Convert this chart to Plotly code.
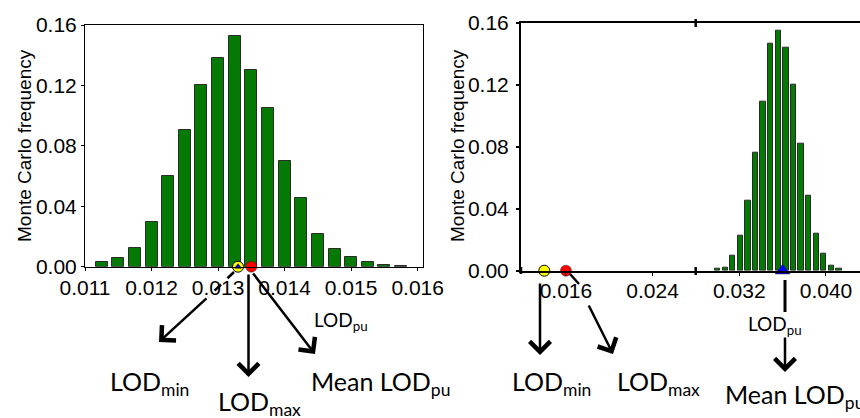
import plotly.graph_objects as go

# ---------------- data ----------------
left_x = [0.01125, 0.01150, 0.01175, 0.01200, 0.01225, 0.01250, 0.01275, 0.01300, 0.01325, 0.01350,
          0.01375, 0.01400, 0.01425, 0.01450, 0.01475, 0.01500, 0.01525, 0.01550, 0.01575]
left_freq = [0.0029, 0.0057, 0.0121, 0.0294, 0.0602, 0.0905, 0.1203, 0.1384, 0.1527, 0.1304,
             0.1050, 0.0697, 0.0455, 0.0218, 0.0117, 0.0066, 0.0029, 0.0013, 0.0007]
left_lod_min = [0.0133]
left_lod_max = [0.0135]
left_mean_lodpu = [0.0133]

right_x = [0.0300, 0.0307, 0.0314, 0.0321, 0.0328, 0.0335, 0.0342, 0.0349, 0.0356, 0.0363,
           0.0370, 0.0377, 0.0384, 0.0391, 0.0398, 0.0405, 0.0412]
right_freq = [0.0010, 0.0020, 0.0095, 0.0224, 0.0454, 0.0761, 0.1088, 0.1462, 0.1546, 0.1439,
              0.1202, 0.0819, 0.0486, 0.0237, 0.0108, 0.0034, 0.0011]
right_lod_min = [0.0140]
right_lod_max = [0.0160]
right_mean_lodpu = [0.0360]

left_xticks = [0.011, 0.012, 0.013, 0.014, 0.015, 0.016]
right_xticks = [0.016, 0.024, 0.032, 0.040]
yticks = [0.00, 0.04, 0.08, 0.12, 0.16]

# ---------------- figure ----------------
W, H = 860, 418
def px(x):
    return x / W
def py(y):
    return 1 - y / H

GREEN = "#047a04"
EDGE = "#2b2b2b"
ANNFONT = "Lato"

def tickfont():
    return dict(family="Liberation Sans", size=21, color="black")

fig = go.Figure()

fig.add_trace(go.Bar(x=left_x, y=left_freq, width=0.00018, marker=dict(color=GREEN, line=dict(color=EDGE, width=1)),
                     xaxis="x", yaxis="y", showlegend=False))
fig.add_trace(go.Scatter(x=left_lod_min, y=[0], mode="markers", cliponaxis=False,
                         marker=dict(symbol="circle", size=11, color="#ffff00", line=dict(color="black", width=1)),
                         xaxis="x", yaxis="y", showlegend=False))
fig.add_trace(go.Scatter(x=left_mean_lodpu, y=[0], mode="markers", cliponaxis=False,
                         marker=dict(symbol="triangle-up", size=6, color="#0000ff", line=dict(color="black", width=0.5)),
                         xaxis="x", yaxis="y", showlegend=False))
fig.add_trace(go.Scatter(x=left_lod_max, y=[0], mode="markers", cliponaxis=False,
                         marker=dict(symbol="circle", size=11, color="#ff0000", line=dict(color="#222222", width=0.5)),
                         xaxis="x", yaxis="y", showlegend=False))

fig.add_trace(go.Bar(x=right_x, y=right_freq, width=0.00049, marker=dict(color=GREEN, line=dict(color=EDGE, width=1)),
                     xaxis="x2", yaxis="y2", showlegend=False))
fig.add_trace(go.Scatter(x=right_lod_min, y=[0], mode="markers", cliponaxis=False,
                         marker=dict(symbol="circle", size=11, color="#ffff00", line=dict(color="black", width=1)),
                         xaxis="x2", yaxis="y2", showlegend=False))
fig.add_trace(go.Scatter(x=right_lod_max, y=[0], mode="markers", cliponaxis=False,
                         marker=dict(symbol="circle", size=11, color="#ff0000", line=dict(color="#222222", width=0.5)),
                         xaxis="x2", yaxis="y2", showlegend=False))
fig.add_trace(go.Scatter(x=right_mean_lodpu, y=[0], mode="markers", cliponaxis=False,
                         marker=dict(symbol="triangle-up", size=13, color="#0000ff", line=dict(color="#222222", width=0.5)),
                         xaxis="x2", yaxis="y2", showlegend=False))

fig.update_layout(
    width=W, height=H, margin=dict(l=0, r=0, t=0, b=0, autoexpand=False),
    plot_bgcolor="white", paper_bgcolor="white", bargap=0,
    font=dict(family="Liberation Sans", size=18, color="black"),
)
fig.update_layout(
    xaxis=dict(domain=[px(85), px(423)], range=[0.011, 0.01608], anchor="y",
               tickmode="array", tickvals=left_xticks, ticktext=[f"{v:.3f}" for v in left_xticks],
               tickfont=tickfont(), showgrid=False, zeroline=False, showline=True, linecolor="black",
               automargin=False, ticks="outside", tickcolor="black",
               mirror=True, linewidth=1, ticklen=3, ticklabelstandoff=-1),
    yaxis=dict(domain=[py(266.7), py(25)], range=[0, 0.16], anchor="x",
               tickmode="array", tickvals=yticks, ticktext=[f"{v:.2f}" for v in yticks],
               tickfont=tickfont(), showgrid=False, zeroline=False, showline=True, linecolor="black",
               automargin=False, ticks="outside", tickcolor="black",
               mirror=True, linewidth=1, ticklen=3),
    xaxis2=dict(domain=[px(521), 1.0], range=[0.01185, 0.04314], anchor="y2",
                tickmode="array", tickvals=right_xticks, ticktext=[f"{v:.3f}" for v in right_xticks],
                tickfont=tickfont(), showgrid=False, zeroline=False, showline=True, linecolor="black",
                automargin=False, ticks="outside", tickcolor="black",
                mirror=True, linewidth=2, ticklen=3, ticklabelstandoff=-3),
    yaxis2=dict(domain=[py(270.7), py(22.7)], range=[0, 0.16], anchor="x2",
                tickmode="array", tickvals=yticks, ticktext=[f"{v:.2f}" for v in yticks],
                tickfont=tickfont(), showgrid=False, zeroline=False, showline=True, linecolor="black",
                automargin=False, ticks="outside", tickcolor="black",
                mirror=False, linewidth=2, ticklen=3, tickwidth=2, ticklabelstandoff=3),
)

# y titles
for xc in (25, 458):
    fig.add_annotation(text="Monte Carlo frequency", x=px(xc), y=py(146), xref="paper", yref="paper",
                       textangle=-90, showarrow=False, xanchor="center", yanchor="middle",
                       font=dict(family="Liberation Sans", size=19, color="black"))

# small thick marks on right panel frame
for (x0, y0, x1, y1) in [(521, 267, 521, 274), (695.7, 19, 695.7, 27), (695.7, 267, 695.7, 275)]:
    fig.add_shape(type="line", xref="paper", yref="paper", x0=px(x0), y0=py(y0), x1=px(x1), y1=py(y1),
                  line=dict(color="black", width=2.5))

def arrow(tail, tip, width=2.5):
    fig.add_annotation(x=px(tip[0]), y=py(tip[1]), xref="paper", yref="paper",
                       ax=tail[0] - tip[0], ay=tail[1] - tip[1], axref="pixel", ayref="pixel",
                       showarrow=True, arrowhead=4, arrowsize=1.6, arrowwidth=width, arrowcolor="black", text="")

def seg(p0, p1, dash="solid", width=2.5):
    fig.add_shape(type="line", xref="paper", yref="paper", x0=px(p0[0]), y0=py(p0[1]), x1=px(p1[0]), y1=py(p1[1]),
                  line=dict(color="black", width=width, dash=dash))

def label(text, x, y, size):
    fig.add_annotation(text=text, x=px(x), y=py(y), xref="paper", yref="paper", showarrow=False,
                       xanchor="left", yanchor="middle", font=dict(family=ANNFONT, size=size, color="black"))

# left panel arrows
seg((234, 272), (208, 297), dash="dash")
arrow((208, 297), (159, 342))
arrow((248.5, 273), (248.5, 377))
arrow((252, 272), (315, 354))
label("LOD<sub>min</sub>", 108, 383, 25)
label("LOD<sub>max</sub>", 216, 403, 25)
label("Mean LOD<sub>pu</sub>", 309, 383, 25)
label("LOD<sub>pu</sub>", 312, 321, 19)

# right panel arrows
arrow((540, 282), (540, 355))
seg((570, 274), (579, 284))
arrow((588, 304), (613, 354))
seg((785, 280), (785, 312), width=3)
arrow((785, 336), (785, 372))
label("LOD<sub>min</sub>", 510, 383, 25)
label("LOD<sub>max</sub>", 615, 383, 25)
label("LOD<sub>pu</sub>", 746, 325, 19)
label("Mean LOD<sub>pu</sub>", 723, 396, 25)

fig.write_html("out.html")
